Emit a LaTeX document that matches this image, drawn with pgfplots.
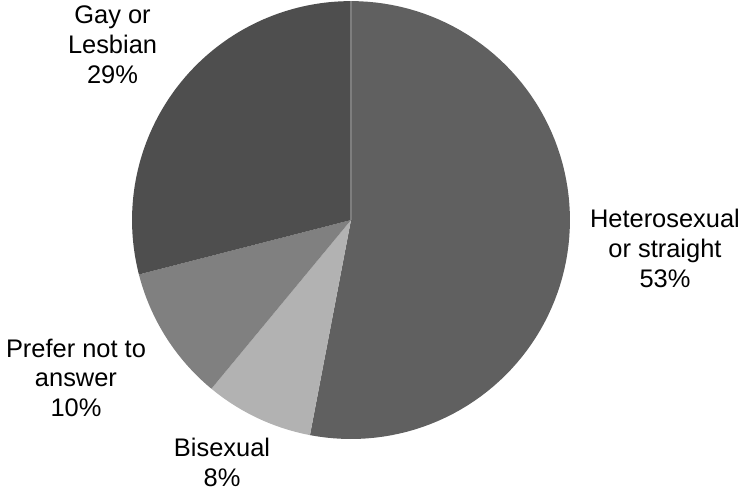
\documentclass[border=0pt]{standalone}
\usepackage{pgfplots}
\pgfplotsset{compat=1.18}
\usepackage{fontspec}
\setmainfont{Liberation Sans}

% shares (%), clockwise from 12 o'clock
\def\vHet{53}
\def\vBi{8}
\def\vPre{10}
\def\vGay{29}
\pgfmathsetmacro\aA{90}
\pgfmathsetmacro\aB{\aA-3.6*\vHet}
\pgfmathsetmacro\aC{\aB-3.6*\vBi}
\pgfmathsetmacro\aD{\aC-3.6*\vPre}
\pgfmathsetmacro\aE{\aD-3.6*\vGay}

\definecolor{cHet}{HTML}{606060}
\definecolor{cBi}{HTML}{B2B2B2}
\definecolor{cPre}{HTML}{808080}
\definecolor{cGay}{HTML}{4E4E4E}
\definecolor{cSep}{HTML}{7E7E7E}

\tikzset{lbl/.style={font=\fontsize{9.7}{11.4}\selectfont, align=center, text=black, inner sep=0pt}}

\begin{document}
\begin{tikzpicture}
\begin{axis}[
  scale only axis,
  width=10cm, height=6.595cm,
  xmin=-1.603, xmax=1.804,
  ymin=-1.242, ymax=1.005,
  hide axis, clip=false,
  samples=90,
]
\addplot[fill=cHet, draw=none, domain=\aB:\aA] ({cos(x)},{sin(x)}) -- (axis cs:0,0) -- cycle;
\addplot[fill=cBi,  draw=none, domain=\aC:\aB] ({cos(x)},{sin(x)}) -- (axis cs:0,0) -- cycle;
\addplot[fill=cPre, draw=none, domain=\aD:\aC] ({cos(x)},{sin(x)}) -- (axis cs:0,0) -- cycle;
\addplot[fill=cGay, draw=none, domain=\aE:\aD] ({cos(x)},{sin(x)}) -- (axis cs:0,0) -- cycle;
% thin separator at the top
\addplot[draw=cSep, line width=0.4pt] coordinates {(0,0) (0,1)};

\node[lbl] at (axis cs:1.434,-0.130) {Heterosexual\\or straight\\\vHet\%};
\node[lbl] at (axis cs:-1.089,0.799) {Gay or\\Lesbian\\\vGay\%};
\node[lbl] at (axis cs:-1.256,-0.721) {Prefer not to\\answer\\\vPre\%};
\node[lbl] at (axis cs:-0.589,-1.108) {Bisexual\\\vBi\%};

\path (rel axis cs:0,0) rectangle (rel axis cs:1,1);
\end{axis}
\end{tikzpicture}
\end{document}
